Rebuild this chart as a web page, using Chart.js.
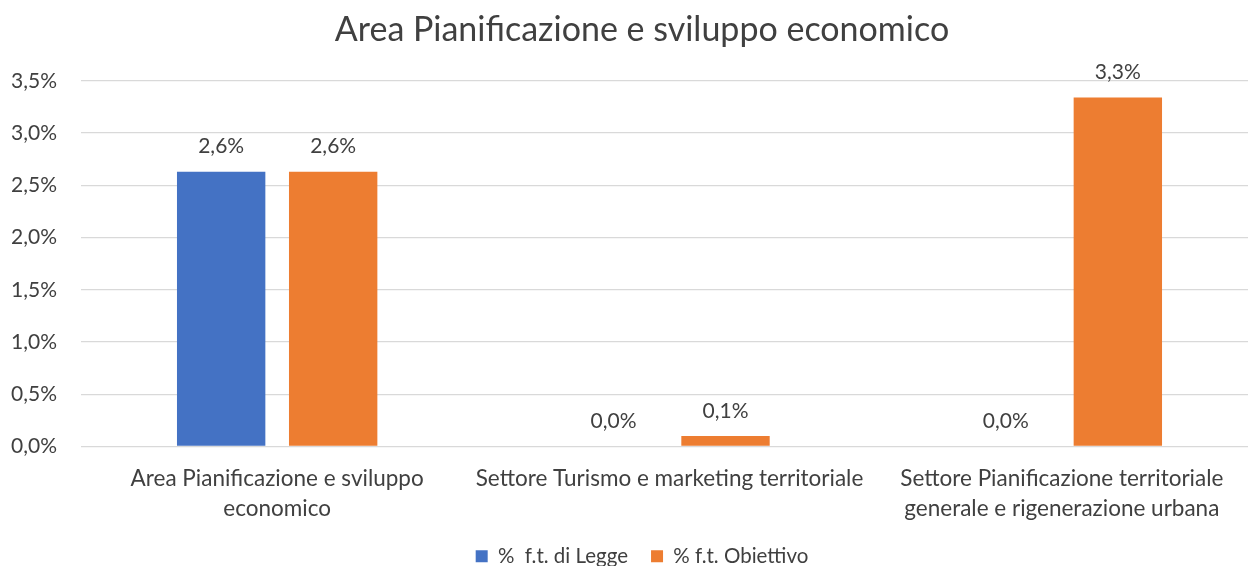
<!DOCTYPE html>
<html>
<head>
<meta charset="utf-8">
<script src="https://cdn.jsdelivr.net/npm/chart.js@4/dist/chart.umd.min.js"></script>
<style>
  html, body { margin: 0; padding: 0; background: #fff; overflow: hidden; }
  #wrap { width: 1284px; height: 566px; }
</style>
</head>
<body>
<div id="wrap"><canvas id="c" width="1284" height="566"></canvas></div>
<script>
const chartTitle = "Area Pianificazione e sviluppo economico";
const categories = [
  ["Area Pianificazione e sviluppo", "economico"],
  ["Settore Turismo e marketing territoriale"],
  ["Settore Pianificazione territoriale", "generale e rigenerazione urbana"]
];
const seriesNames = ["%  f.t. di Legge", "% f.t. Obiettivo"];
const leggeValues = [2.63, 0.0, 0.0];
const obiettivoValues = [2.63, 0.10, 3.34];
const yTicks = [0, 0.5, 1.0, 1.5, 2.0, 2.5, 3.0, 3.5];

const FONT = "Lato, 'Open Sans', sans-serif";
const fmt = v => v.toFixed(1).replace('.', ',') + '%';

const dataLabels = {
  id: 'dataLabels',
  afterDatasetsDraw(chart) {
    const ctx = chart.ctx;
    ctx.save();
    ctx.font = "21px " + FONT;
    ctx.fillStyle = "#404040";
    ctx.textAlign = "center";
    ctx.textBaseline = "middle";
    chart.data.datasets.forEach((ds, i) => {
      const meta = chart.getDatasetMeta(i);
      meta.data.forEach((el, j) => {
        ctx.fillText(fmt(ds.data[j]), el.x, el.y - 25);
      });
    });
    ctx.restore();
  }
};

// shrink the legend's reserved height so its row sits near the bottom edge
const legendFit = {
  id: 'legendFit',
  beforeLayout(chart) {
    const lg = chart.legend;
    if (lg && !lg._fitWrapped) {
      const orig = lg.fit;
      lg.fit = function () { orig.call(this); this.height = 43; };
      lg._fitWrapped = true;
    }
  }
};

new Chart(document.getElementById('c'), {
  type: 'bar',
  data: {
    labels: categories,
    datasets: [
      { label: seriesNames[0], data: leggeValues, backgroundColor: '#4472C4',
        categoryPercentage: 0.571, barPercentage: 0.789 },
      { label: seriesNames[1], data: obiettivoValues, backgroundColor: '#ED7D31',
        categoryPercentage: 0.571, barPercentage: 0.789 }
    ]
  },
  options: {
    responsive: false,
    animation: false,
    layout: { padding: 0 },
    plugins: {
      title: {
        display: true, text: chartTitle, color: '#404040',
        font: { family: FONT, size: 34, weight: 'normal' },
        padding: { top: 10, bottom: 30 }
      },
      legend: {
        position: 'bottom',
        labels: {
          color: '#404040', boxWidth: 12, boxHeight: 12, padding: 23,
          font: { family: FONT, size: 20.5 }
        }
      },
      tooltip: { enabled: false }
    },
    scales: {
      x: {
        afterFit(scale) { scale.height -= 18; },
        grid: { display: false, drawTicks: false },
        border: { display: false },
        ticks: { color: '#404040', font: { family: FONT, size: 22.5, lineHeight: 1.3 }, padding: 18, maxRotation: 0, autoSkip: false }
      },
      y: {
        min: 0, max: 3.5,
        afterFit(scale) { scale.width = 81; },
        afterBuildTicks(scale) { scale.ticks = yTicks.map(v => ({ value: v })); },
        grid: { color: '#D9D9D9', lineWidth: 1.3, drawTicks: false },
        border: { display: false },
        ticks: { color: '#404040', font: { family: FONT, size: 21 }, padding: 24, callback: v => fmt(v) }
      },
      yRightMargin: {
        position: 'right',
        afterFit(scale) { scale.width = 26; },
        grid: { display: false, drawTicks: false },
        border: { display: false },
        ticks: { display: false }
      }
    }
  },
  plugins: [legendFit, dataLabels]
});
</script>
</body>
</html>
